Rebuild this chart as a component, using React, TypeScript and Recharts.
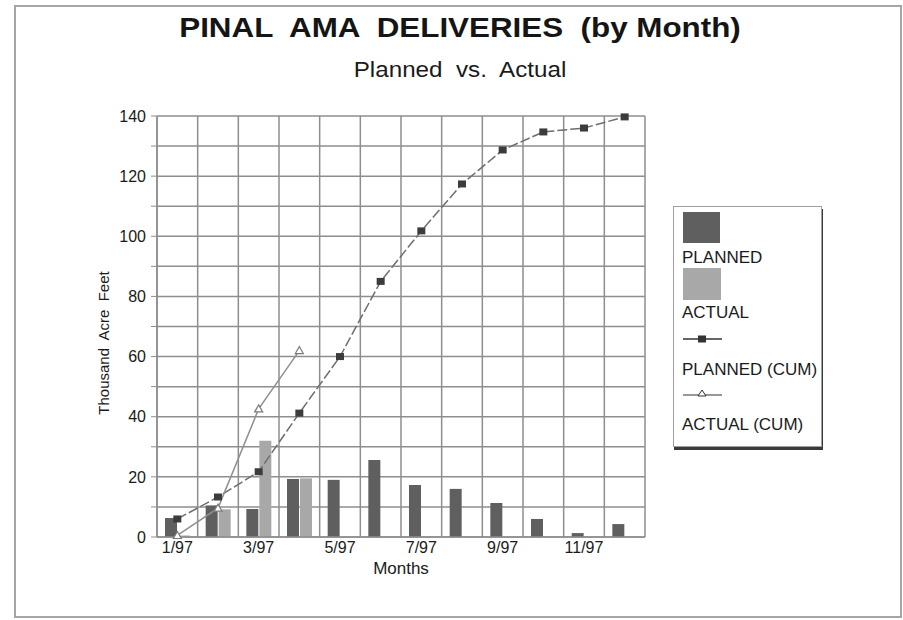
import React from 'react';
import { ComposedChart, Bar, Line, XAxis, YAxis, CartesianGrid } from 'recharts';

const months = ['1/97', '2/97', '3/97', '4/97', '5/97', '6/97', '7/97', '8/97', '9/97', '10/97', '11/97', '12/97'];
const planned = [6.3, 10.5, 9.3, 19.3, 19, 25.6, 17.3, 16, 11.3, 6, 1.3, 4.3];
const actual = [0.5, 9.2, 32, 19.5, null, null, null, null, null, null, null, null];
const plannedCum = [6, 13.3, 21.7, 41.2, 60, 85, 101.8, 117.4, 128.7, 134.7, 136, 139.7];
const actualCum = [0.5, 9.6, 42.6, 62, null, null, null, null, null, null, null, null];
const yTicks = [0, 10, 20, 30, 40, 50, 60, 70, 80, 90, 100, 110, 120, 130, 140];
const gridTicks = [0, 1, 2, 3, 4, 5, 6, 7, 8, 9, 10, 11, 12];
const seriesNames = ['PLANNED', 'ACTUAL', 'PLANNED (CUM)', 'ACTUAL (CUM)'];

const data = months.map((m, i) => ({
  month: m,
  pos: i + 0.5,
  planned: planned[i],
  actual: actual[i],
  plannedCum: plannedCum[i],
  actualCum: actualCum[i],
}));

const FONT = '"Liberation Sans", Arial, Helvetica, sans-serif';
const PLANNED_FILL = '#5f5f5f';
const ACTUAL_FILL = '#a8a8a8';
const GRID = '#8e8e8e';

const SquareDot = (props: any) => {
  const { cx, cy, index } = props;
  if (cx == null || cy == null) return <g key={`sq-${index}`} />;
  return <rect key={`sq-${index}`} x={cx - 4} y={cy - 3.5} width={8} height={7} fill="#3c3c3c" />;
};

const TriDot = (props: any) => {
  const { cx, cy, index } = props;
  if (cx == null || cy == null) return <g key={`tr-${index}`} />;
  return (
    <path
      key={`tr-${index}`}
      d={`M${cx},${cy - 4} L${cx + 4},${cy + 3} L${cx - 4},${cy + 3} Z`}
      fill="#fff"
      stroke="#7a7a7a"
      strokeWidth={1.2}
    />
  );
};

const legendText: React.CSSProperties = {
  position: 'absolute',
  left: 8,
  fontSize: 17,
  lineHeight: '17px',
  fontFamily: FONT,
  color: '#1a1a1a',
  whiteSpace: 'pre',
};

export default function App() {
  return (
    <div style={{ position: 'absolute', left: 0, top: 0, width: 903, height: 620, background: '#fff', fontFamily: FONT }}>
      <div
        style={{
          position: 'absolute',
          left: 14,
          top: 5,
          width: 888,
          height: 613,
          border: '2px solid #a5a5a5',
          boxSizing: 'border-box',
        }}
      />
      <div
        style={{
          position: 'absolute',
          left: 0,
          top: 14,
          width: 920,
          textAlign: 'center',
          fontSize: 28,
          lineHeight: '28px',
          fontWeight: 'bold',
          color: '#151515',
          whiteSpace: 'pre',
          transform: 'scaleX(1.12)',
          transformOrigin: '460px 0',
        }}
      >
        {'PINAL  AMA  DELIVERIES  (by Month)'}
      </div>
      <div
        style={{
          position: 'absolute',
          left: 0,
          top: 59,
          width: 920,
          textAlign: 'center',
          fontSize: 22,
          lineHeight: '22px',
          color: '#1a1a1a',
          whiteSpace: 'pre',
          transform: 'scaleX(1.1)',
          transformOrigin: '460px 0',
        }}
      >
        {'Planned  vs.  Actual'}
      </div>

      <div style={{ position: 'absolute', left: 0, top: 0 }}>
        <ComposedChart
          width={903}
          height={620}
          data={data}
          margin={{ top: 116, right: 258, bottom: 43, left: 97 }}
          barSize={12}
          barGap={1}
        >
          <XAxis xAxisId="grid" type="number" dataKey="pos" domain={[0, 12]} ticks={gridTicks} hide />
          <CartesianGrid xAxisId="grid" stroke={GRID} strokeWidth={1.5} horizontal={true} vertical={true} />
          <XAxis
            dataKey="month"
            height={40}
            tickLine={false}
            tickSize={0}
            tickMargin={5}
            interval={0}
            axisLine={{ stroke: GRID, strokeWidth: 1.5 }}
            tick={{ fontSize: 16, fill: '#1a1a1a', fontFamily: FONT }}
            tickFormatter={(v: string, i: number) => (i % 2 === 0 ? v : '')}
            label={{ value: 'Months', position: 'insideBottom', offset: 3, fontSize: 17, fill: '#1a1a1a', fontFamily: FONT }}
          />
          <YAxis
            width={60}
            domain={[0, 140]}
            ticks={yTicks}
            interval={0}
            tickSize={6}
            tickMargin={5}
            axisLine={{ stroke: GRID, strokeWidth: 1.5 }}
            tickLine={{ stroke: GRID }}
            tick={{ fontSize: 16, fill: '#1a1a1a', fontFamily: FONT }}
            tickFormatter={(v: number) => (v % 20 === 0 ? String(v) : '')}
          />
          <Bar dataKey="planned" name={seriesNames[0]} fill={PLANNED_FILL} isAnimationActive={false} />
          <Bar dataKey="actual" name={seriesNames[1]} fill={ACTUAL_FILL} isAnimationActive={false} />
          <Line
            dataKey="plannedCum"
            name={seriesNames[2]}
            type="linear"
            stroke="#6e6e6e"
            strokeWidth={1.5}
            strokeDasharray="10 3"
            dot={SquareDot}
            activeDot={false}
            isAnimationActive={false}
          />
          <Line
            dataKey="actualCum"
            name={seriesNames[3]}
            type="linear"
            stroke="#909090"
            strokeWidth={1.5}
            dot={TriDot}
            activeDot={false}
            connectNulls={false}
            isAnimationActive={false}
          />
        </ComposedChart>
      </div>

      <svg style={{ position: 'absolute', left: 0, top: 0, pointerEvents: 'none' }} width={903} height={620}>
        <text
          x={0}
          y={0}
          transform="translate(109,343) rotate(-90)"
          textAnchor="middle"
          fontSize={15}
          fontFamily={FONT}
          fill="#1a1a1a"
          style={{ whiteSpace: 'pre' }}
        >
          {'Thousand  Acre  Feet'}
        </text>
      </svg>

      <div
        style={{
          position: 'absolute',
          left: 673,
          top: 206,
          width: 149,
          height: 241,
          border: '1px solid #a0a0a0',
          boxShadow: '1px 3px 0 #3a3a3a',
          boxSizing: 'border-box',
          background: '#fff',
        }}
      >
        <div style={{ position: 'absolute', left: 9, top: 5, width: 37, height: 31, background: PLANNED_FILL }} />
        <div style={{ ...legendText, top: 42 }}>{seriesNames[0]}</div>
        <div style={{ position: 'absolute', left: 9, top: 61, width: 38, height: 32, background: ACTUAL_FILL }} />
        <div style={{ ...legendText, top: 97 }}>{seriesNames[1]}</div>
        <svg style={{ position: 'absolute', left: 9, top: 124 }} width={40} height={16}>
          <line x1={0} y1={8} x2={39} y2={8} stroke="#333" strokeWidth={1.5} />
          <rect x={15} y={4.5} width={8} height={7} fill="#333" />
        </svg>
        <div style={{ ...legendText, top: 154 }}>{seriesNames[2]}</div>
        <svg style={{ position: 'absolute', left: 9, top: 179 }} width={40} height={16}>
          <line x1={0} y1={9} x2={39} y2={9} stroke="#333" strokeWidth={1.2} />
          <path d="M19,4 L23,10 L15,10 Z" fill="#fff" stroke="#333" strokeWidth={1} />
        </svg>
        <div style={{ ...legendText, top: 209 }}>{seriesNames[3]}</div>
      </div>
    </div>
  );
}
